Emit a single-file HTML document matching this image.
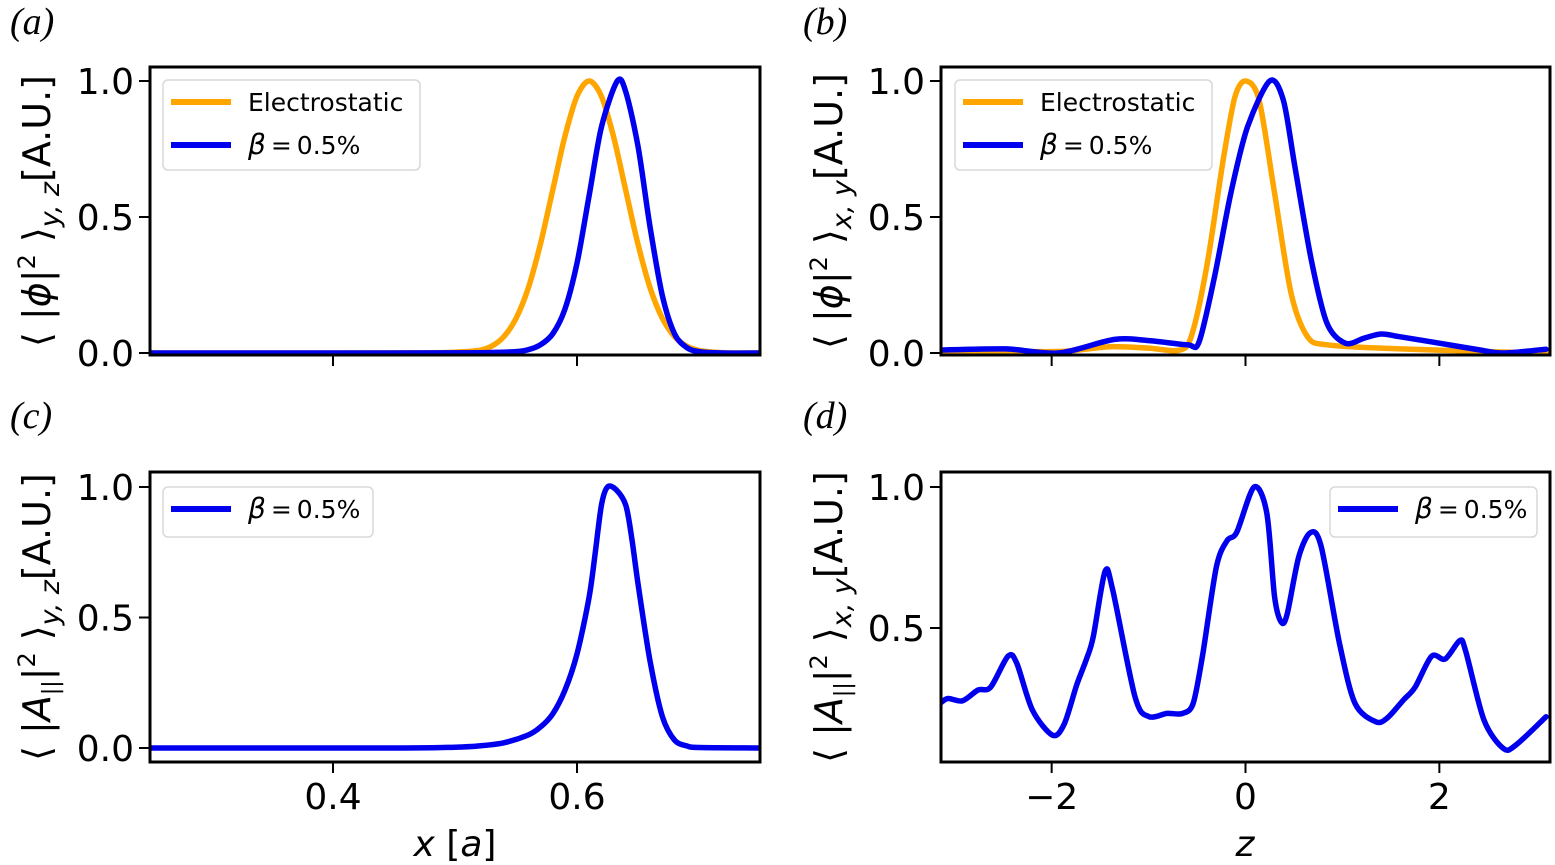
<!DOCTYPE html>
<html><head><meta charset="utf-8"><style>
body{margin:0;background:#fff;}
.dv{font-family:"DejaVu Sans","Liberation Sans",sans-serif;}
</style></head><body>
<svg id="fig" class="dv" width="1555" height="865" viewBox="0 0 1555 865" xmlns="http://www.w3.org/2000/svg" style="position:absolute;left:0;top:0"></svg>
<script>
// ---- data ----
const xA_elec = [0.25,0.40,0.48,0.50,0.52,0.53,0.54,0.55,0.56,0.57,0.58,0.59,0.60,0.61,0.62,0.63,0.64,0.65,0.66,0.67,0.68,0.69,0.70,0.72,0.75];
const yA_elec = [0,0,0.001,0.003,0.01,0.025,0.06,0.127,0.238,0.40,0.597,0.795,0.944,1.0,0.944,0.795,0.597,0.40,0.238,0.127,0.06,0.025,0.0095,0.001,0];
const xA_beta = [0.25,0.45,0.52,0.55,0.56,0.57,0.58,0.59,0.60,0.61,0.62,0.633,0.64,0.65,0.66,0.67,0.68,0.69,0.70,0.72,0.75];
const yA_beta = [0,0,0.001,0.005,0.012,0.03,0.07,0.16,0.33,0.58,0.83,1.0,0.96,0.76,0.46,0.21,0.07,0.02,0.005,0,0];
const zB_elec = [-3.14,-2.0,-1.7,-1.39,-1.0,-0.69,-0.56,-0.40,-0.23,-0.11,0.0,0.14,0.30,0.47,0.64,0.84,1.46,2.5,3.14];
const yB_elec = [0.005,0.005,0.012,0.023,0.018,0.01,0.06,0.317,0.71,0.94,1.0,0.93,0.587,0.22,0.06,0.03,0.017,0.005,0];
const zB_beta = [-3.15,-2.47,-1.93,-1.35,-0.98,-0.60,-0.48,-0.32,-0.15,0.02,0.25,0.39,0.51,0.68,0.84,1.03,1.22,1.40,1.59,2.0,2.42,2.66,3.10];
const yB_beta = [0.011,0.015,0.0,0.05,0.045,0.03,0.04,0.28,0.59,0.83,1.0,0.93,0.685,0.34,0.11,0.036,0.054,0.07,0.06,0.036,0.011,0.0,0.014];
const xC_beta = [0.25,0.45,0.50,0.52,0.54,0.56,0.57,0.58,0.59,0.60,0.61,0.615,0.62,0.625,0.632,0.64,0.645,0.65,0.66,0.67,0.68,0.69,0.70,0.75];
const yC_beta = [0,0,0.003,0.008,0.02,0.05,0.08,0.13,0.22,0.36,0.58,0.75,0.93,1.0,0.99,0.93,0.80,0.63,0.33,0.12,0.03,0.008,0.002,0];
const zD_beta = [-3.15,-3.07,-2.92,-2.76,-2.63,-2.45,-2.36,-2.20,-1.99,-1.87,-1.74,-1.64,-1.57,-1.45,-1.37,-1.14,-1.0,-0.81,-0.65,-0.54,-0.44,-0.30,-0.19,-0.09,0.09,0.22,0.30,0.37,0.43,0.55,0.67,0.78,0.97,1.13,1.34,1.46,1.63,1.75,1.92,2.06,2.21,2.27,2.46,2.66,2.79,3.10];
const yD_beta = [0.233,0.25,0.242,0.28,0.29,0.40,0.375,0.21,0.12,0.16,0.30,0.39,0.47,0.70,0.635,0.256,0.186,0.197,0.197,0.233,0.41,0.717,0.81,0.84,1.0,0.907,0.61,0.52,0.55,0.753,0.838,0.79,0.445,0.233,0.168,0.18,0.245,0.29,0.40,0.39,0.455,0.42,0.174,0.073,0.085,0.185];
const xTicksAC = [0.4,0.6];
const zTicks = [-2,0,2];
const yTicksABC = [0.0,0.5,1.0];
const yTicksD = [0.5,1.0];

const NS="http://www.w3.org/2000/svg";
const svg=document.getElementById('fig');
function mk(tag,attrs,parent){const e=document.createElementNS(NS,tag);for(const k in attrs)e.setAttribute(k,attrs[k]);(parent||svg).appendChild(e);return e;}
function lin(d0,d1,r0,r1){return v=>r0+(v-d0)*(r1-r0)/(d1-d0);}

const panels={
 a:{L:150,R:760,T:67,B:355,x:lin(0.25,0.75,150,760),y:lin(0,1,353,81)},
 b:{L:941,R:1550,T:67,B:355,x:lin(-3.1416,3.1416,941,1550),y:lin(0,1,353,81)},
 c:{L:150,R:760,T:472,B:762,x:lin(0.25,0.75,150,760),y:lin(0,1,748,487)},
 d:{L:941,R:1550,T:472,B:762,x:lin(-3.1416,3.1416,941,1550),y:lin(0.5,1,628,487)}
};

function line(p,xs,ys,color,name){
 const P=xs.map((v,i)=>[p.x(v),p.y(ys[i])]);
 let d='M'+P[0][0].toFixed(1)+','+P[0][1].toFixed(1);
 for(let i=0;i<P.length-1;i++){
  const p0=P[Math.max(i-1,0)],p1=P[i],p2=P[i+1],p3=P[Math.min(i+2,P.length-1)];
  const t=0.5/3;
  const c1=[p1[0]+(p2[0]-p0[0])*t*0.9,p1[1]+(p2[1]-p0[1])*t*0.9];
  const c2=[p2[0]-(p3[0]-p1[0])*t*0.9,p2[1]-(p3[1]-p1[1])*t*0.9];
  d+='C'+c1[0].toFixed(1)+','+c1[1].toFixed(1)+' '+c2[0].toFixed(1)+','+c2[1].toFixed(1)+' '+p2[0].toFixed(1)+','+p2[1].toFixed(1);
 }
 const g=mk('path',{d:d,fill:'none',stroke:color,'stroke-width':5.5,'stroke-linejoin':'round','stroke-linecap':'round','clip-path':'url(#clip-'+p.id+')'});
 
 
}
const defs=mk('defs',{});
for(const id in panels){const p=panels[id];p.id=id;
 const cp=mk('clipPath',{id:'clip-'+id},defs);mk('rect',{x:p.L,y:p.T,width:p.R-p.L,height:p.B-p.T},cp);}

function axes(p,xt,xlab,yt,ylabels){
 for(const v of xt){const X=p.x(v);
  const t=mk('line',{x1:X,x2:X,y1:p.B,y2:p.B+11,stroke:'#000','stroke-width':2});
  
  
  if(xlab){const tx=mk('text',{x:X,y:p.B+47,'font-size':36,'text-anchor':'middle'});tx.textContent=(v<0?'\u2212'+Math.abs(v):String(v));
   
   }
 }
 for(const v of yt){const Y=p.y(v);
  const t=mk('line',{x1:p.L-11,x2:p.L,y1:Y,y2:Y,stroke:'#000','stroke-width':2});
  
  
  if(ylabels){const tx=mk('text',{x:p.L-16,y:Y+13,'font-size':36,'text-anchor':'end'});tx.textContent=v.toFixed(1);
   
   }
 }
}
function frame(p){const r=mk('rect',{x:p.L,y:p.T,width:p.R-p.L,height:p.B-p.T,fill:'none',stroke:'#000','stroke-width':3});
 
 }

function legend(x,y,w,h,items){
 const g=mk('g',{});
 
 
 mk('rect',{x:x,y:y,width:w,height:h,rx:5,fill:'#fff',stroke:'#d8d8d8','stroke-width':1.5},g);
 items.forEach((it,i)=>{const cy=y+22+i*43;
  mk('line',{x1:x+8,x2:x+68,y1:cy,y2:cy,stroke:it.c,'stroke-width':6},g);
  const t=mk('text',{x:x+85,y:cy+9,'font-size':25},g);
  
  
  if(it.beta){const b=mk('tspan',{'font-style':'italic','font-size':28},t);b.textContent='\u03b2';const r=mk('tspan',{},t);r.textContent='\u2009=\u20090.5%';}
  else t.textContent=it.label;});
}

const A=panels.a,B=panels.b,C=panels.c,D=panels.d;
line(A,xA_elec,yA_elec,'#ffa500','curve-a-electrostatic');
line(A,xA_beta,yA_beta,'#0000ee','curve-a-beta');
line(B,zB_elec,yB_elec,'#ffa500','curve-b-electrostatic');
line(B,zB_beta,yB_beta,'#0000ee','curve-b-beta');
line(C,xC_beta,yC_beta,'#0000ee','curve-c-beta');
line(D,zD_beta,yD_beta,'#0000ee','curve-d-beta');
axes(A,xTicksAC,false,yTicksABC,true);
axes(B,zTicks,false,yTicksABC,true);
axes(C,xTicksAC,true,yTicksABC,true);
axes(D,zTicks,true,yTicksD,true);
for(const k in panels)frame(panels[k]);
legend(163,80,257,90,[{c:'#ffa500',label:'Electrostatic'},{c:'#0000ee',beta:true}]);
legend(955,80,257,90,[{c:'#ffa500',label:'Electrostatic'},{c:'#0000ee',beta:true}]);
legend(163,487,210,50,[{c:'#0000ee',beta:true}]);
legend(1330,487,207,50,[{c:'#0000ee',beta:true}]);
</script>
<svg width="1555" height="865" xmlns="http://www.w3.org/2000/svg" style="position:absolute;left:0;top:0;pointer-events:none">
 <g style="font-family:'Liberation Serif',serif;font-style:italic" font-size="38">
  <text x="10" y="34">(a)</text>
  <text x="803" y="34">(b)</text>
  <text x="10" y="428">(c)</text>
  <text x="803" y="428">(d)</text>
 </g>
 <g style="font-family:'DejaVu Sans',sans-serif" font-size="38">
  <text transform="translate(50,211) rotate(-90)" text-anchor="middle">⟨ |<tspan font-style="italic">ϕ</tspan>|<tspan font-size="24" dy="-15">2</tspan><tspan dy="15"> ⟩</tspan><tspan font-size="27" dy="9" font-style="italic">y, z</tspan><tspan dy="-9">[A.U.]</tspan></text>
  <text transform="translate(842,211) rotate(-90)" text-anchor="middle">⟨ |<tspan font-style="italic">ϕ</tspan>|<tspan font-size="24" dy="-15">2</tspan><tspan dy="15"> ⟩</tspan><tspan font-size="27" dy="9" font-style="italic">x, y</tspan><tspan dy="-9">[A.U.]</tspan></text>
  <text transform="translate(50,617) rotate(-90)" text-anchor="middle">⟨ |<tspan font-style="italic">A</tspan><tspan font-size="22" dy="8">||</tspan><tspan dy="-8">|</tspan><tspan font-size="24" dy="-15">2</tspan><tspan dy="15"> ⟩</tspan><tspan font-size="27" dy="9" font-style="italic">y, z</tspan><tspan dy="-9">[A.U.]</tspan></text>
  <text transform="translate(842,617) rotate(-90)" text-anchor="middle">⟨ |<tspan font-style="italic">A</tspan><tspan font-size="22" dy="8">||</tspan><tspan dy="-8">|</tspan><tspan font-size="24" dy="-15">2</tspan><tspan dy="15"> ⟩</tspan><tspan font-size="27" dy="9" font-style="italic">x, y</tspan><tspan dy="-9">[A.U.]</tspan></text>
  <text x="455" y="856" text-anchor="middle" font-size="36"><tspan font-style="italic">x</tspan> [<tspan font-style="italic">a</tspan>]</text>
  <text x="1245" y="856" text-anchor="middle" font-size="36" font-style="italic">z</text>
 </g>
</svg>
</body></html>
